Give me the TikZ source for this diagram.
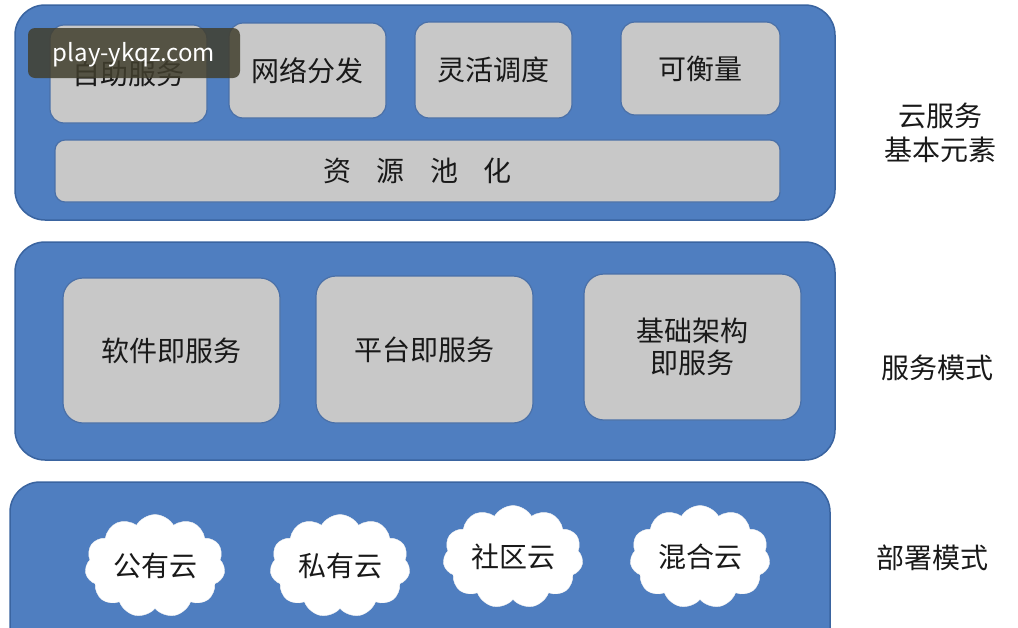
\documentclass[tikz,border=0pt]{standalone}
\usepackage{fontspec}
\setmainfont{Noto Sans CJK SC}
\usetikzlibrary{shapes.symbols}
\definecolor{pblue}{HTML}{4F7EC0}
\definecolor{pedge}{HTML}{3A64A0}
\definecolor{bgray}{HTML}{C8C8C8}
\definecolor{bedge}{HTML}{4A70A8}
\tikzset{
  panel/.style={fill=pblue,draw=pedge,line width=1.5pt,rounded corners=30pt},
  gbox/.style={fill=bgray,draw=bedge,line width=1.2pt,rounded corners=14pt},
  lbl/.style={font=\fontsize{28}{32}\selectfont,text=black!90,align=center},
  rlbl/.style={font=\fontsize{28}{34}\selectfont,text=black!90,align=center},
  cloudn/.style={cloud,cloud puffs=11,cloud puff arc=120,aspect=1.5,fill=white,draw=white!90!gray,minimum width=140pt,minimum height=92pt,font=\fontsize{28}{32}\selectfont,text=black!90}
}
\begin{document}
\begin{tikzpicture}[x=1pt,y=-1pt]
\useasboundingbox (0,0) rectangle (1018,627);
\fill[white] (0,0) rectangle (1018,627);
% panel 1
\draw[panel] (15,5) rectangle (835,220);
\draw[gbox] (50,25) rectangle node[lbl] (t1) {自助服务} (207,123);
\draw[gbox] (229,23) rectangle node[lbl] (t2) {网络分发} (386,118);
\draw[gbox] (415,22) rectangle node[lbl] (t3) {灵活调度} (572,118);
\draw[gbox] (621,22) rectangle node[lbl] (t4) {可衡量} (780,115);
\draw[gbox,rounded corners=10pt] (55,140) rectangle node[lbl] (t5) {资\hspace{0.9em}源\hspace{0.9em}池\hspace{0.9em}化} (780,202);
% panel 2
\draw[panel] (15,242) rectangle (835,460);
\draw[gbox,rounded corners=20pt] (63,278) rectangle node[lbl] (s1) {软件即服务} (280,423);
\draw[gbox,rounded corners=20pt] (316,276) rectangle node[lbl] (s2) {平台即服务} (533,423);
\draw[gbox,rounded corners=20pt] (584,274) rectangle node[lbl] (s3) {基础架构\\即服务} (801,420);
% panel 3
\draw[panel] (10,482) rectangle (830,660);
\node[cloudn] (c1) at (155,566) {公有云};
\node[cloudn] (c2) at (340,566) {私有云};
\node[cloudn] (c3) at (513,557) {社区云};
\node[cloudn] (c4) at (700,557) {混合云};
% right labels
\node[rlbl] (r1) at (940,133) {云服务\\基本元素};
\node[rlbl] (r2) at (937,368) {服务模式};
\node[rlbl] (r3) at (932,558) {部署模式};
% watermark
\fill[fill=black!70!olive,opacity=0.85,rounded corners=7pt] (28,28) rectangle (240,78);
\node[text=white,font=\fontsize{24}{28}\selectfont] (wm) at (134,55) {play-ykqz.com};
\end{tikzpicture}
\end{document}
